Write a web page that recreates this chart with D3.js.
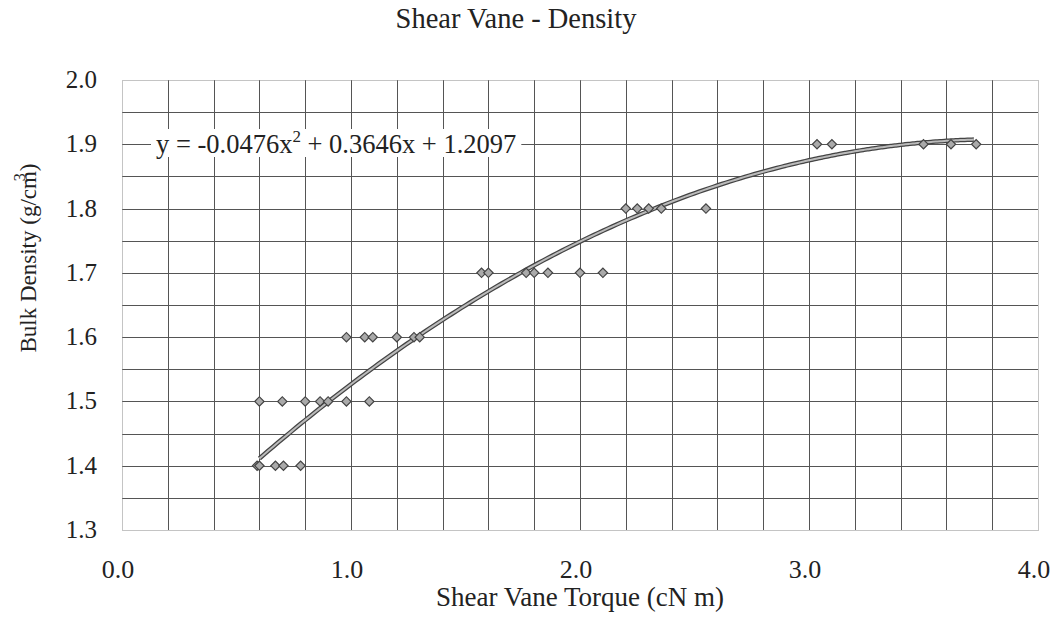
<!DOCTYPE html>
<html>
<head>
<meta charset="utf-8">
<script src="https://cdn.jsdelivr.net/npm/d3@7"></script>
<style>
  body { margin: 0; background: #fff; }
</style>
</head>
<body>
<div id="chart"></div>
<script>
// torque readings (cN m) grouped by the bulk density they were measured at
var torque14 = [0.59, 0.60, 0.67, 0.705, 0.78];
var torque15 = [0.60, 0.70, 0.80, 0.865, 0.90, 0.98, 1.08];
var torque16 = [0.98, 1.06, 1.095, 1.20, 1.275, 1.30];
var torque17 = [1.57, 1.60, 1.765, 1.80, 1.86, 2.00, 2.10];
var torque18 = [2.20, 2.25, 2.30, 2.355, 2.55];
var torque19 = [3.035, 3.10, 3.50, 3.62, 3.73];
var densities = [1.4, 1.5, 1.6, 1.7, 1.8, 1.9];

// polynomial trendline as printed on the chart: a x^2 + b x + c
var trendCoef = [-0.0476, 0.3646, 1.2097];
var trendRange = [0.6, 3.73];

var xTicks = [0.0, 1.0, 2.0, 3.0, 4.0];
var yTicks = [1.3, 1.4, 1.5, 1.6, 1.7, 1.8, 1.9, 2.0];

var points = [];
[torque14, torque15, torque16, torque17, torque18, torque19].forEach(function(arr, i) {
    arr.forEach(function(t) { points.push({x: t, y: densities[i]}); });
});

var margin = {top: 80, right: 17, bottom: 101, left: 122},
    width = 1055 - margin.left - margin.right,
    height = 631 - margin.top - margin.bottom;

var svg = d3.select("#chart").append("svg")
    .attr("width", 1055)
    .attr("height", 631)
    .attr("font-family", "'Liberation Serif', 'Times New Roman', Times, serif")
    .style("fill", "#222");

var g = svg.append("g")
    .attr("transform", "translate(" + margin.left + "," + margin.top + ")");

var xScale = d3.scaleLinear().domain([0, 4]).range([0, width]);
var yScale = d3.scaleLinear().domain([1.3, 2.0]).range([height, 0]);

// grid: every 0.2 across, every 0.05 up
var xGrid = d3.range(1, 20).map(function(i) { return i * 0.2; });
var yGrid = d3.range(1, 14).map(function(i) { return 1.3 + i * 0.05; });

g.append("g").selectAll("line").data(xGrid).join("line")
    .attr("x1", function(d) { return Math.round(xScale(d)) + 0.5; })
    .attr("x2", function(d) { return Math.round(xScale(d)) + 0.5; })
    .attr("y1", 0).attr("y2", height)
    .attr("stroke", "#555").attr("stroke-width", 1);

g.append("g").selectAll("line").data(yGrid).join("line")
    .attr("x1", 0).attr("x2", width)
    .attr("y1", function(d) { return Math.round(yScale(d)) + 0.5; })
    .attr("y2", function(d) { return Math.round(yScale(d)) + 0.5; })
    .attr("stroke", "#555").attr("stroke-width", 1);

g.append("rect")
    .attr("x", 0.5).attr("y", 0.5)
    .attr("width", width).attr("height", height)
    .attr("fill", "none")
    .attr("stroke", "#888")
    .attr("stroke-dasharray", "1,1");

// tick labels
g.append("g").selectAll("text").data(xTicks).join("text")
    .attr("x", function(d) { return xScale(d) - 4; })
    .attr("y", height + 48)
    .attr("text-anchor", "middle")
    .attr("font-size", 26)
    .text(function(d) { return d3.format(".1f")(d); });

g.append("g").selectAll("text").data(yTicks).join("text")
    .attr("x", -25)
    .attr("y", function(d) { return yScale(d) + 8; })
    .attr("text-anchor", "end")
    .attr("font-size", 25)
    .text(function(d) { return d3.format(".1f")(d); });

// trendline
var curve = d3.range(trendRange[0], trendRange[1] + 0.001, 0.02).map(function(x) {
    return [x, trendCoef[0] * x * x + trendCoef[1] * x + trendCoef[2]];
});
var line = d3.line()
    .x(function(d) { return xScale(d[0]); })
    .y(function(d) { return yScale(d[1]); })
    .curve(d3.curveMonotoneX);

g.append("path").datum(curve)
    .attr("d", line)
    .attr("fill", "none")
    .attr("stroke", "#444")
    .attr("stroke-width", 4.5);
g.append("path").datum(curve)
    .attr("d", line)
    .attr("fill", "none")
    .attr("stroke", "#bbb")
    .attr("stroke-width", 2);

// diamond markers
g.append("g").selectAll("path").data(points).join("path")
    .attr("transform", function(d) { return "translate(" + xScale(d.x) + "," + yScale(d.y) + ") rotate(45)"; })
    .attr("d", "M-3.3,-3.3H3.3V3.3H-3.3Z")
    .attr("fill", "#aaa")
    .attr("stroke", "#444")
    .attr("stroke-width", 1.2);

// equation label with white backing over the grid
var eqG = g.append("g");
var eqBox = eqG.append("rect").attr("fill", "#fff");
var eq = eqG.append("text")
    .attr("x", 156 - margin.left)
    .attr("y", 153 - margin.top)
    .attr("font-size", 26.5);
eq.append("tspan").text("y = -" + Math.abs(trendCoef[0]) + "x");
eq.append("tspan").attr("dy", -11).attr("font-size", 17).text("2");
eq.append("tspan").attr("dy", 11).text(" + " + trendCoef[1] + "x + " + trendCoef[2]);
var bb = eq.node().getBBox();
eqBox.attr("x", bb.x - 5).attr("y", bb.y + 2)
    .attr("width", bb.width + 10).attr("height", bb.height - 4);

// titles
svg.append("text")
    .attr("x", 516).attr("y", 28)
    .attr("text-anchor", "middle")
    .attr("font-size", 28.5)
    .text("Shear Vane - Density");

svg.append("text")
    .attr("x", 580).attr("y", 606)
    .attr("text-anchor", "middle")
    .attr("font-size", 27)
    .text("Shear Vane Torque (cN m)");

// the cube sits over the "m", as in the original
var yl = svg.append("text")
    .attr("transform", "translate(36,258) rotate(-90)")
    .attr("text-anchor", "middle")
    .attr("font-size", 23);
yl.append("tspan").text("Bulk Density (g/cm");
yl.append("tspan").attr("dx", -10).attr("dy", -11).attr("font-size", 16).text("3");
yl.append("tspan").attr("dx", 2).attr("dy", 11).text(")");
</script>
</body>
</html>
